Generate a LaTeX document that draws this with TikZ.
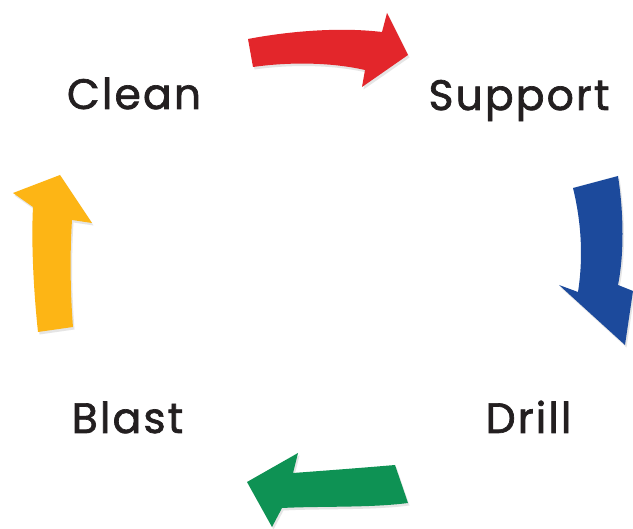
\documentclass[tikz,border=0pt]{standalone}
\usepackage{fontspec}
\setmainfont{Poppins}[FakeBold=1.6,LetterSpace=5]
\definecolor{cred}{HTML}{E3262B}
\definecolor{cblue}{HTML}{1C4A9C}
\definecolor{cgreen}{HTML}{0E9254}
\definecolor{cyellow}{HTML}{FDB515}
\definecolor{ctext}{HTML}{231F20}
\definecolor{cshadow}{HTML}{9A9A9A}
\begin{document}
\begin{tikzpicture}[x=1pt,y=-1pt,
  lbl/.style={anchor=base, text=ctext, font=\fontsize{42.5}{45}\selectfont, inner sep=0pt},
  arr/.style={fill=#1, draw=none},
  shd/.style={fill=cshadow, fill opacity=0.25, draw=none, shift={(1.5,2.5)}}]
\useasboundingbox (0,0) rectangle (633,529);
\fill[white] (0,0) rectangle (633,529);
% shadows
\path[shd] (248,39) .. controls (290,31) and (340,27) .. (382,32) -- (387,13) -- (408,55) -- (362,87) -- (365,70) .. controls (330,62) and (288,62) .. (253,67) -- cycle;
\path[shd] (573,188) -- (618,176) .. controls (624,215) and (624,255) .. (618,285) -- (633,291) -- (625,345) -- (559,285) -- (578,292) .. controls (583,260) and (582,225) .. (573,188) -- cycle;
\path[shd] (395,465) -- (408,503) .. controls (370,508) and (320,506) .. (282,508) -- (272,527) -- (247,482) -- (298,453) -- (293,473) .. controls (320,471) and (360,468) .. (395,465) -- cycle;
\path[shd] (38,332) -- (73,327) .. controls (70,290) and (70,250) .. (72,220) -- (92,223) -- (60,175) -- (13,193) -- (33,207) .. controls (31,245) and (34,295) .. (38,332) -- cycle;
% arrows
\path[arr=cred] (248,39) .. controls (290,31) and (340,27) .. (382,32) -- (387,13) -- (408,55) -- (362,87) -- (365,70) .. controls (330,62) and (288,62) .. (253,67) -- cycle;
\path[arr=cblue] (573,188) -- (618,176) .. controls (624,215) and (624,255) .. (618,285) -- (633,291) -- (625,345) -- (559,285) -- (578,292) .. controls (583,260) and (582,225) .. (573,188) -- cycle;
\path[arr=cgreen] (395,465) -- (408,503) .. controls (370,508) and (320,506) .. (282,508) -- (272,527) -- (247,482) -- (298,453) -- (293,473) .. controls (320,471) and (360,468) .. (395,465) -- cycle;
\path[arr=cyellow] (38,332) -- (73,327) .. controls (70,290) and (70,250) .. (72,220) -- (92,223) -- (60,175) -- (13,193) -- (33,207) .. controls (31,245) and (34,295) .. (38,332) -- cycle;
% labels
\node[lbl] (clean) at (134,109) {Clean};
\node[lbl] (support) at (519,110) {Support};
\node[lbl] (blast) at (127.5,433) {Blast};
\node[lbl] (drill) at (528.5,433) {Drill};
\end{tikzpicture}
\end{document}
